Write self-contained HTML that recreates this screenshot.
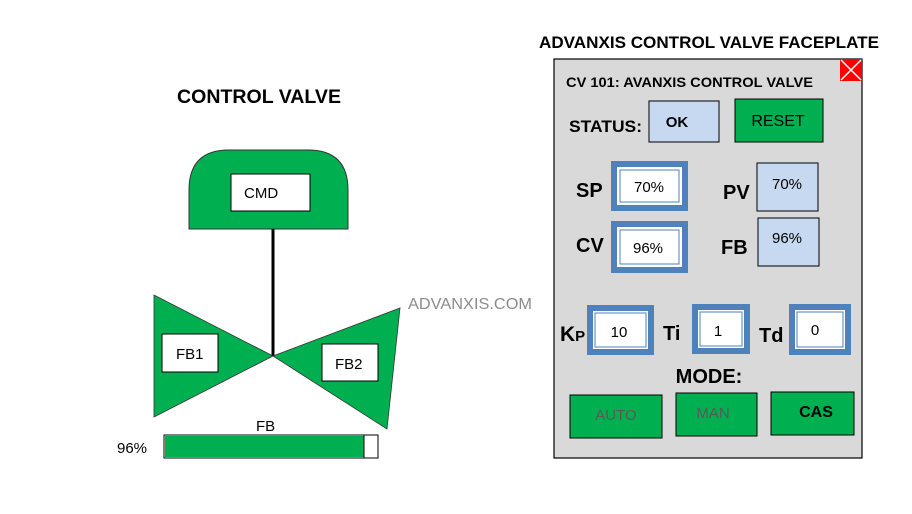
<!DOCTYPE html>
<html><head><meta charset="utf-8"><style>
html,body{margin:0;padding:0;background:#fff;width:912px;height:514px;overflow:hidden}
text{font-family:"Liberation Sans",sans-serif}
</style></head><body>
<svg width="912" height="514" viewBox="0 0 912 514" xmlns="http://www.w3.org/2000/svg">
<text x="177" y="103" font-size="19" font-weight="bold" textLength="164" lengthAdjust="spacingAndGlyphs">CONTROL VALVE</text>
<path d="M189,229 L189,190 Q189,150 229,150 L308,150 Q348,150 348,190 L348,229 Z" fill="#00b050" stroke="#333" stroke-width="1"/>
<rect x="231" y="174" width="79" height="37" fill="#fff" stroke="#000"/>
<text x="244" y="198" font-size="15">CMD</text>
<line x1="273" y1="229" x2="273" y2="356" stroke="#000" stroke-width="3"/>
<polygon points="154,295 154,417 273,356" fill="#00b050" stroke="#333" stroke-width="0.8"/>
<polygon points="273,356 400,308 387,429" fill="#00b050" stroke="#333" stroke-width="0.8"/>
<rect x="162" y="334" width="56" height="38" fill="#fff" stroke="#000"/>
<text x="176" y="359" font-size="15">FB1</text>
<rect x="322" y="344" width="56" height="37" fill="#fff" stroke="#000"/>
<text x="335" y="369" font-size="15">FB2</text>
<text x="408" y="309" font-size="16" fill="#8c8c8c" textLength="124" lengthAdjust="spacingAndGlyphs">ADVANXIS.COM</text>
<text x="256" y="431" font-size="15">FB</text>
<rect x="164" y="435" width="214" height="23" fill="#fff" stroke="#000"/>
<rect x="165" y="436" width="199" height="21" fill="#00b050"/>
<line x1="364" y1="435" x2="364" y2="458" stroke="#000"/>
<text x="117" y="453" font-size="15">96%</text>
<text x="539" y="48" font-size="17" font-weight="bold" textLength="340" lengthAdjust="spacingAndGlyphs">ADVANXIS CONTROL VALVE FACEPLATE</text>
<rect x="554" y="59" width="308" height="399" fill="#d9d9d9" stroke="#000" stroke-width="1.2"/>
<rect x="840" y="59" width="22" height="22" fill="#ff0000"/>
<line x1="841" y1="60" x2="861" y2="80" stroke="#fff" stroke-width="1.5"/>
<line x1="861" y1="60" x2="841" y2="80" stroke="#fff" stroke-width="1.5"/>
<text x="566" y="87" font-family="Liberation Sans, sans-serif" font-size="14" font-weight="bold" textLength="247" lengthAdjust="spacingAndGlyphs">CV 101:  AVANXIS CONTROL VALVE</text>
<text x="569" y="132" font-size="17" font-weight="bold" textLength="73" lengthAdjust="spacingAndGlyphs">STATUS:</text>
<rect x="649" y="101" width="70" height="41" fill="#c6d9f1" stroke="#000"/>
<text x="677" y="127" font-size="15" font-weight="bold" text-anchor="middle">OK</text>
<rect x="735" y="99" width="88" height="43" fill="#00b050" stroke="#000"/>
<text x="778" y="126" font-size="16" text-anchor="middle">RESET</text>
<text x="576" y="197" font-size="20" font-weight="bold">SP</text>
<rect x="614" y="164" width="71" height="44" fill="#fff" stroke="#4f81bd" stroke-width="6"/>
<rect x="620" y="170" width="59" height="32" fill="none" stroke="#4f81bd" stroke-width="1"/>
<text x="649" y="192" font-size="15" text-anchor="middle">70%</text>
<text x="576" y="252" font-size="20" font-weight="bold">CV</text>
<rect x="614" y="224" width="71" height="46" fill="#fff" stroke="#4f81bd" stroke-width="6"/>
<rect x="620" y="230" width="59" height="34" fill="none" stroke="#4f81bd" stroke-width="1"/>
<text x="648" y="253" font-size="15" text-anchor="middle">96%</text>
<text x="723" y="199" font-size="20" font-weight="bold">PV</text>
<rect x="757" y="163" width="61" height="48" fill="#c6d9f1" stroke="#000"/>
<text x="787" y="189" font-size="15" text-anchor="middle">70%</text>
<text x="721" y="254" font-size="20" font-weight="bold">FB</text>
<rect x="758" y="218" width="61" height="48" fill="#c6d9f1" stroke="#000"/>
<text x="787" y="243" font-size="15" text-anchor="middle">96%</text>
<text x="560" y="341" font-size="21" font-weight="bold">K<tspan font-size="15">P</tspan></text>
<rect x="590" y="308" width="61" height="44" fill="#fff" stroke="#4f81bd" stroke-width="6"/>
<rect x="595" y="313" width="51" height="34" fill="none" stroke="#4f81bd" stroke-width="1"/>
<text x="619" y="337" font-size="15" text-anchor="middle">10</text>
<text x="663" y="340" font-size="20" font-weight="bold">Ti</text>
<rect x="695" y="307" width="52" height="44" fill="#fff" stroke="#4f81bd" stroke-width="6"/>
<rect x="700" y="312" width="42" height="34" fill="none" stroke="#4f81bd" stroke-width="1"/>
<text x="718" y="336" font-size="15" text-anchor="middle">1</text>
<text x="759" y="342" font-size="20" font-weight="bold">Td</text>
<rect x="792" y="307" width="56" height="45" fill="#fff" stroke="#4f81bd" stroke-width="6"/>
<rect x="797" y="312" width="46" height="35" fill="none" stroke="#4f81bd" stroke-width="1"/>
<text x="815" y="335" font-size="15" text-anchor="middle">0</text>
<text x="709" y="383" font-size="20" font-weight="bold" text-anchor="middle">MODE:</text>
<rect x="570" y="395" width="92" height="43" fill="#00b050" stroke="#000"/>
<text x="616" y="420" font-size="15" fill="#595959" text-anchor="middle">AUTO</text>
<rect x="676" y="393" width="81" height="43" fill="#00b050" stroke="#000"/>
<text x="713" y="418" font-size="15" fill="#595959" text-anchor="middle">MAN</text>
<rect x="771" y="392" width="83" height="43" fill="#00b050" stroke="#000"/>
<text x="816" y="417" font-size="16" font-weight="bold" text-anchor="middle">CAS</text>
</svg>
</body></html>
